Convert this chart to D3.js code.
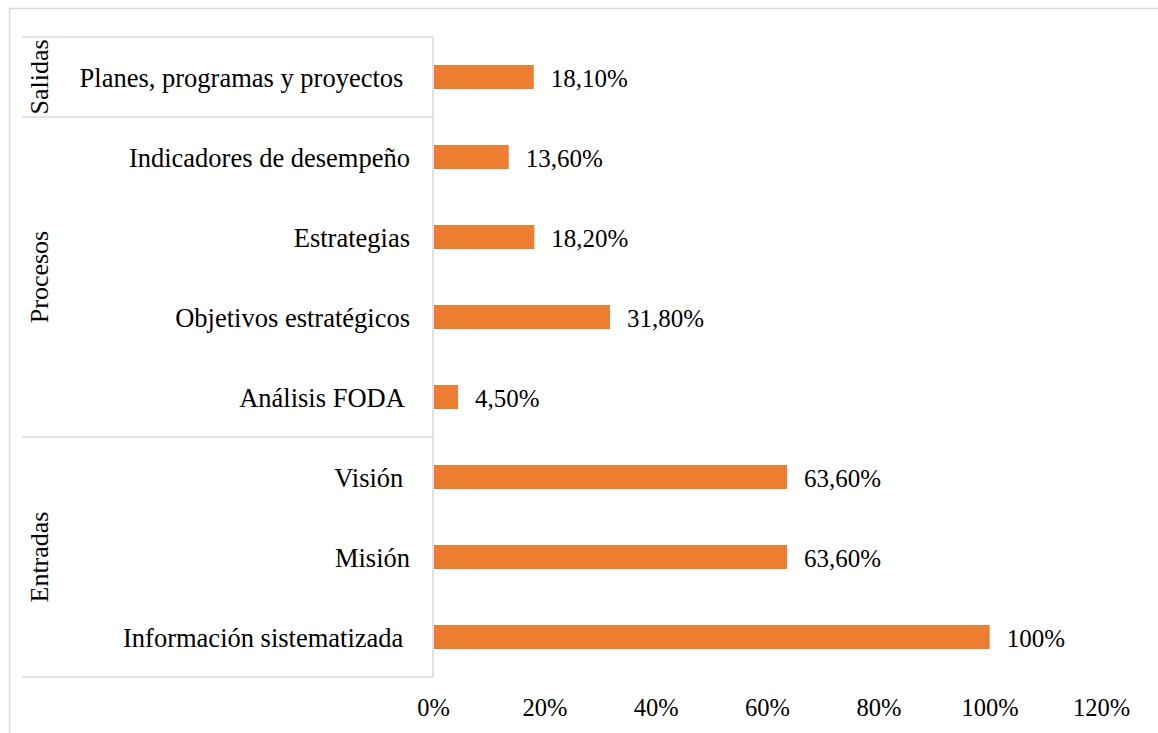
<!DOCTYPE html>
<html>
<head>
<meta charset="utf-8">
<script src="https://cdn.jsdelivr.net/npm/d3@7"></script>
<style>
  html, body { margin: 0; padding: 0; background: #fff; }
  svg { display: block; font-family: "Liberation Serif", "Times New Roman", serif; }
  text { white-space: pre; }
</style>
</head>
<body>
<div id="chart"></div>
<script>
const categories = [
  'Planes, programas y proyectos ',
  'Indicadores de desempeño',
  'Estrategias',
  'Objetivos estratégicos',
  'Análisis FODA ',
  'Visión ',
  'Misión',
  'Información sistematizada '
];
const values = [18.1, 13.6, 18.2, 31.8, 4.5, 63.6, 63.6, 100];
const valueLabels = ['18,10%', '13,60%', '18,20%', '31,80%', '4,50%', '63,60%', '63,60%', '100%'];
const groups = ['Salidas', 'Procesos', 'Entradas'];
const groupOf = [0, 1, 1, 1, 1, 2, 2, 2];
const tickValues = [0, 20, 40, 60, 80, 100, 120];

const width = 1158, height = 733;
const margin = {top: 37, right: 57, bottom: 56, left: 433};
const labelLeft = 22;
const gridColor = '#d9d9d9';
const barColor = '#ed7d31';

const svg = d3.select('#chart')
  .append('svg')
    .attr('width', width)
    .attr('height', height);

// outer chart border (cut off at right and bottom)
svg.append('path')
  .attr('d', `M9.5,${height} V8.5 H${width}`)
  .attr('fill', 'none')
  .attr('stroke', gridColor)
  .attr('stroke-width', 1.5);

const x = d3.scaleLinear()
  .domain([0, 120])
  .range([margin.left, width - margin.right]);

const y = d3.scaleBand()
  .domain(categories)
  .range([margin.top, height - margin.bottom])
  .paddingInner(0.7)
  .paddingOuter(0.35);

const step = y.step();
const rowTop = i => y(categories[i]) - y.paddingOuter() * step;

// group separators
const groupRows = groups.map((g, gi) => {
  const idx = groupOf.map((v, i) => v === gi ? i : -1).filter(i => i >= 0);
  return {name: g, top: rowTop(idx[0]), bottom: rowTop(idx[idx.length - 1]) + step};
});

const lines = svg.append('g')
  .attr('stroke', gridColor)
  .attr('stroke-width', 1.5);

const sepYs = [groupRows[0].top].concat(groupRows.map(d => d.bottom));
lines.selectAll('line.sep')
  .data(sepYs)
  .join('line')
    .attr('class', 'sep')
    .attr('x1', labelLeft)
    .attr('x2', x(0))
    .attr('y1', d => d)
    .attr('y2', d => d);

lines.append('line')
  .attr('x1', x(0))
  .attr('x2', x(0))
  .attr('y1', margin.top)
  .attr('y2', height - margin.bottom);

// bars
svg.append('g')
  .selectAll('rect')
  .data(values)
  .join('rect')
    .attr('x', x(0) + 1)
    .attr('y', (d, i) => y(categories[i]))
    .attr('width', d => x(d) - x(0) - 1)
    .attr('height', y.bandwidth())
    .attr('fill', barColor);

// value labels
svg.append('g')
  .selectAll('text')
  .data(values)
  .join('text')
    .attr('x', d => x(d) + 17)
    .attr('y', (d, i) => y(categories[i]) + y.bandwidth() / 2)
    .attr('dy', '0.38em')
    .attr('font-size', 25)
    .attr('fill', '#000')
    .text((d, i) => valueLabels[i]);

// category labels
svg.append('g')
  .selectAll('text')
  .data(categories)
  .join('text')
    .attr('x', 410)
    .attr('y', d => y(d) + y.bandwidth() / 2)
    .attr('dy', '0.36em')
    .attr('text-anchor', 'end')
    .attr('font-size', 26.5)
    .attr('fill', '#000')
    .text(d => d);

// group labels
svg.append('g')
  .selectAll('text')
  .data(groupRows)
  .join('text')
    .attr('transform', d => `translate(48,${(d.top + d.bottom) / 2}) rotate(-90)`)
    .attr('text-anchor', 'middle')
    .attr('font-size', 26)
    .attr('fill', '#000')
    .text(d => d.name);

// x axis
const xAxis = svg.append('g')
  .attr('transform', `translate(0,${height - margin.bottom})`)
  .call(d3.axisBottom(x)
    .tickValues(tickValues)
    .tickFormat(d => d + '%')
    .tickSize(0)
    .tickPadding(22));
xAxis.select('.domain').remove();
xAxis.selectAll('text')
  .attr('font-family', '"Liberation Serif", "Times New Roman", serif')
  .attr('font-size', 24.5)
  .attr('fill', '#000');
</script>
</body>
</html>
